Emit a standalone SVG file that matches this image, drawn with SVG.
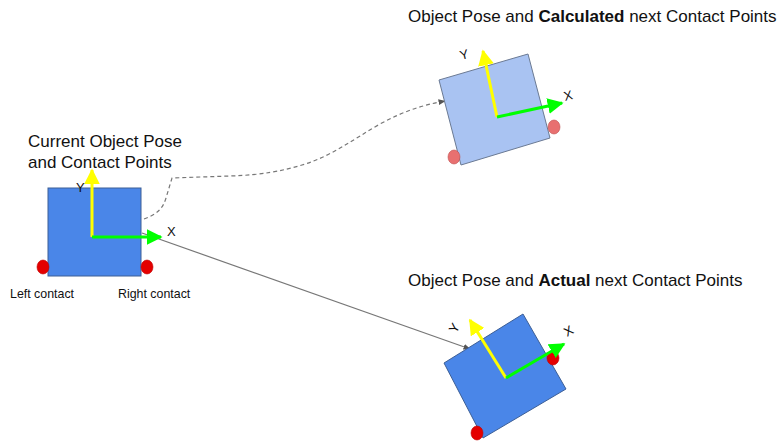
<svg xmlns="http://www.w3.org/2000/svg" width="783" height="443" viewBox="0 0 783 443">
<style>
text{font-family:"Liberation Sans",Arial,sans-serif;fill:#111}
.title{font-size:17px}
.small{font-size:12.4px}
.ax{font-size:13px}
.conn{fill:none;stroke:#777;stroke-width:1.2}
.dash{stroke-dasharray:4 3}
.yax{stroke:#ffff00;stroke-width:3;fill:none;marker-end:url(#ya)}
.xax{stroke:#00ff00;stroke-width:3;fill:none;marker-end:url(#xa)}
.dk{fill:#4a86e8;stroke:#3d5f96;stroke-width:1}
.lt{fill:#a9c3f2;stroke:#6b7a93;stroke-width:1}
.red{fill:#e40000;stroke:#c00000;stroke-width:0.6}
.pink{fill:#e87070;stroke:#c05050;stroke-width:0.6}
</style>
<defs>
<marker id="ya" viewBox="0 0 10 10" refX="9" refY="5" markerWidth="5.3" markerHeight="5.3" orient="auto" markerUnits="strokeWidth"><path d="M0,0 L10,5 L0,10 z" fill="#ffff00"/></marker>
<marker id="xa" viewBox="0 0 10 10" refX="9" refY="5" markerWidth="5.3" markerHeight="5.3" orient="auto" markerUnits="strokeWidth"><path d="M0,0 L10,5 L0,10 z" fill="#00ff00"/></marker>
<marker id="ca" viewBox="0 0 10 10" refX="9" refY="5" markerWidth="6" markerHeight="6" orient="auto" markerUnits="strokeWidth"><path d="M0,1 L10,5 L0,9 z" fill="#555"/></marker>
</defs>

<g id="connectors">
<path class="conn" d="M142,233 L470,349" marker-end="url(#ca)"/>
<path class="conn dash" d="M144,219 C158,214 163,208 166,198 L172,178 L230,176 C262,175 282,171 302,165 C332,156 352,140 380,124 C402,112 422,105 445,101" marker-end="url(#ca)"/>
</g>

<g id="current">
<text class="title" x="28" y="147">Current Object Pose</text>
<text class="title" x="28" y="168">and Contact Points</text>
<rect class="dk" x="48" y="188" width="93" height="88"/>
<ellipse class="red" cx="43" cy="267" rx="6" ry="7"/>
<ellipse class="red" cx="147" cy="267" rx="6" ry="7"/>
<path class="yax" d="M92,237 L92,170"/>
<path class="xax" d="M92,237 L161,237"/>
<text class="ax" x="76" y="192">Y</text>
<text class="ax" x="167" y="236">X</text>
<text class="small" x="10" y="298">Left contact</text>
<text class="small" x="118" y="298">Right contact</text>
</g>

<g id="calculated">
<text class="title" x="408" y="22">Object Pose and <tspan font-weight="bold">Calculated</tspan> next Contact Points</text>
<polygon class="lt" points="439,80 528,54 550,138 461,165"/>
<ellipse class="pink" cx="554" cy="127" rx="6" ry="7"/>
<ellipse class="pink" cx="454" cy="157" rx="6" ry="7"/>
<path class="yax" d="M497,117 L483,51"/>
<path class="xax" d="M497,117 L562,103"/>
<text class="ax" transform="translate(461,60) rotate(-14)">Y</text>
<text class="ax" transform="translate(565,101) rotate(-14)">X</text>
</g>

<g id="actual">
<text class="title" x="408" y="286">Object Pose and <tspan font-weight="bold">Actual</tspan> next Contact Points</text>
<polygon class="dk" points="444,363 523,314 566,389 483,438"/>
<ellipse class="red" cx="553" cy="358" rx="6" ry="7"/>
<ellipse class="red" cx="477" cy="433" rx="6" ry="7"/>
<path class="yax" d="M506,378 L470,320"/>
<path class="xax" d="M506,378 L564,344"/>
<text class="ax" transform="translate(456,334) rotate(-60)">Y</text>
<text class="ax" transform="translate(567,337) rotate(-30)">X</text>
</g>
</svg>
